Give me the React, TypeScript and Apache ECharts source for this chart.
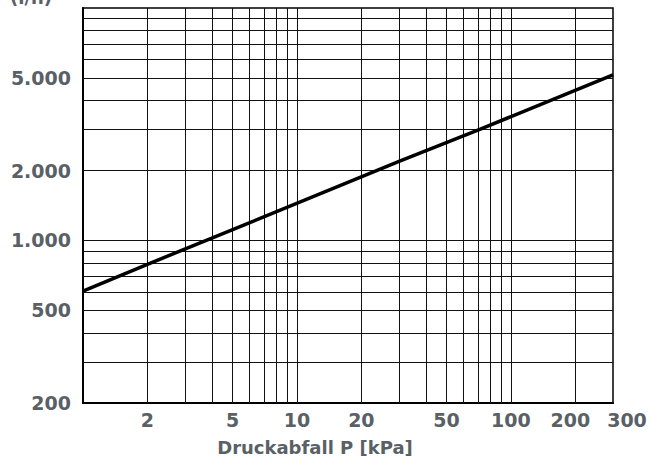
import { useEffect, useRef } from "react";
import * as echarts from "echarts";

const pressureKpa = [1, 2, 4, 30, 72, 300];
const flowLh = [606, 790, 1024, 2187, 3013, 5160];

const xGridValues = [2, 3, 4, 5, 6, 7, 8, 9, 10, 20, 30, 40, 50, 60, 70, 80, 90, 100, 200];
const yGridValues = [300, 400, 500, 600, 700, 800, 900, 1000, 2000, 3000, 4000, 5000, 6000, 7000, 8000, 9000];
const xTickLabels = [2, 5, 10, 20, 50, 100, 200, 300];
const yTickLabels = [200, 500, 1000, 2000, 5000];

const xTitle = "Druckabfall P [kPa]";
const yTitle = "(l/h)";

const FONT = "'DejaVu Sans', sans-serif";
const TEXT_COLOR = "#596066";

export default function App() {
  const ref = useRef<HTMLDivElement>(null);

  useEffect(() => {
    if (!ref.current) return;
    const chart = echarts.init(ref.current, undefined, { renderer: "svg" });

    const gridLineStyle = { color: "#111", width: 1, type: "solid" as const };

    chart.setOption({
      animation: false,
      backgroundColor: "#fff",
      grid: {
        left: 83,
        right: 37,
        top: 8,
        bottom: 54,
        show: true,
        borderColor: "#000",
        borderWidth: 1.5,
        backgroundColor: "transparent",
      },
      xAxis: {
        type: "log",
        logBase: 10,
        min: 1,
        max: 300,
        axisLine: { show: true, lineStyle: { color: "#000", width: 2 } },
        axisTick: { show: false },
        splitLine: { show: false },
        minorSplitLine: { show: false },
        axisLabel: {
          customValues: xTickLabels,
          margin: 7,
          fontFamily: FONT,
          fontWeight: "bold",
          fontSize: 19,
          color: TEXT_COLOR,
          formatter: (v: number) => {
            const r = Math.round(v);
            if (r === 300) return "{r|300}";
            if (r === 200) return "{l|200}";
            return String(r);
          },
          rich: {
            r: { padding: [0, 0, 0, 28], fontFamily: FONT, fontWeight: "bold", fontSize: 19, color: TEXT_COLOR },
            l: { padding: [0, 10, 0, 0], fontFamily: FONT, fontWeight: "bold", fontSize: 19, color: TEXT_COLOR },
          },
        },
      },
      yAxis: {
        type: "log",
        logBase: 10,
        min: 200,
        max: 10000,
        axisLine: { show: true, lineStyle: { color: "#000", width: 2 } },
        axisTick: { show: false },
        splitLine: { show: false },
        minorSplitLine: { show: false },
        axisLabel: {
          customValues: yTickLabels,
          margin: 12,
          fontFamily: FONT,
          fontWeight: "bold",
          fontSize: 19,
          color: TEXT_COLOR,
          formatter: (v: number) => {
            const r = Math.round(v);
            return r >= 1000 ? `${r / 1000}.000` : String(r);
          },
        },
      },
      graphic: [
        {
          type: "text",
          left: 10,
          top: -12,
          style: {
            text: yTitle,
            font: `bold 18px ${FONT}`,
            fill: TEXT_COLOR,
          },
        },
        {
          type: "text",
          x: 315,
          y: 447,
          style: {
            text: xTitle,
            font: `bold 18px ${FONT}`,
            fill: TEXT_COLOR,
            align: "center",
            verticalAlign: "middle",
          },
        },
      ],
      series: [
        {
          type: "line",
          data: pressureKpa.map((p, i) => [p, flowLh[i]]),
          showSymbol: false,
          symbol: "none",
          z: 3,
          lineStyle: { color: "#000", width: 3.5 },
          markLine: {
            silent: true,
            z: 1,
            symbol: ["none", "none"],
            label: { show: false },
            lineStyle: gridLineStyle,
            data: [
              ...xGridValues.map((v) => ({ xAxis: v })),
              ...yGridValues.map((v) => ({ yAxis: v })),
            ],
          },
        },
      ],
    });

    return () => chart.dispose();
  }, []);

  return (
    <div
      ref={ref}
      style={{ position: "fixed", left: 0, top: 0, width: 650, height: 457, background: "#fff" }}
    />
  );
}
